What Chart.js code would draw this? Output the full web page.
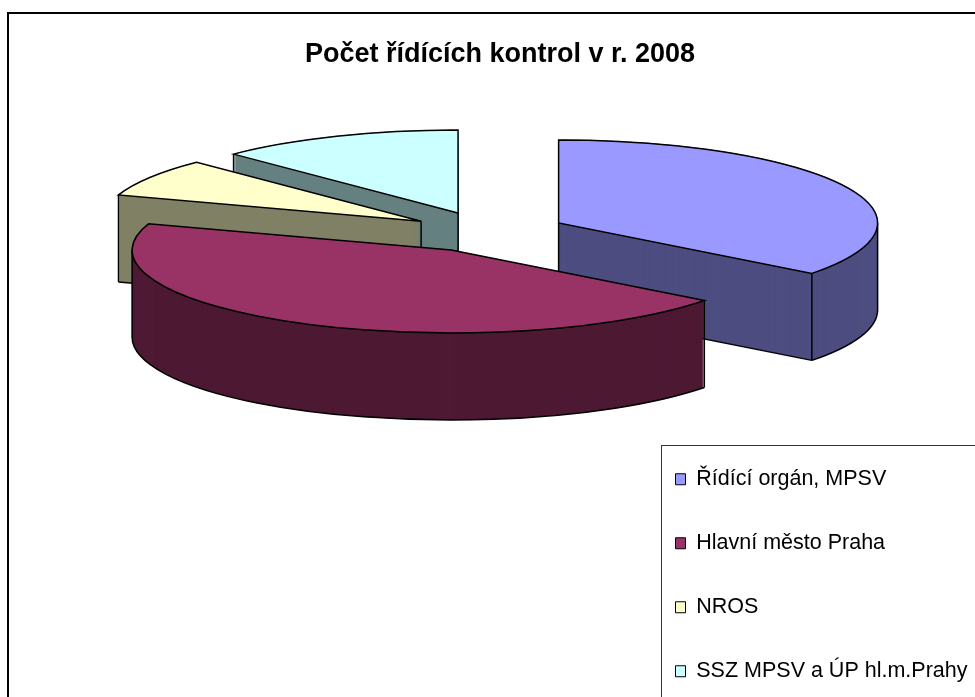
<!DOCTYPE html>
<html>
<head>
<meta charset="utf-8">
<style>
    html, body { margin: 0; padding: 0; background: #fff; overflow: hidden; }
</style>
<script src="https://cdn.jsdelivr.net/npm/chart.js@4"></script>
</head>
<body>
<canvas id="chart" width="975" height="697"></canvas>
<script>
'use strict';

const categories = ['Řídící orgán, MPSV', 'Hlavní město Praha', 'NROS', 'SSZ MPSV a ÚP hl.m.Prahy'];
const controlCounts = [57, 72, 12, 20];
const sliceColors = ['#9999ff', '#993366', '#ffffcc', '#ccffff'];
const wallColors = ['#4d4d80', '#4d1933', '#808066', '#668080'];
const chartTitle = 'Počet řídících kontrol v r. 2008';

// back slices first, the front one last
const paintOrder = [3, 2, 0, 1];

const pieCenter = { x: 488, y: 232 };
const tilt = 0.26;
const depth = 87;

// the arc element grows its radius by this much when it is offset
const radiusGrowth = (arc) => {
    const sweep = Math.min(Math.PI, arc.circumference || 0);
    return arc.options.offset / 4 * (1 - Math.sin(sweep));
};

const sectorPath = (ctx, arc, dy) => {
    const shift = arc.options.offset / 4;
    const mid = (arc.startAngle + arc.endAngle) / 2;
    const ox = Math.cos(mid) * shift;
    const oy = Math.sin(mid) * shift;
    const r = arc.outerRadius + radiusGrowth(arc);
    ctx.save();
    ctx.translate(pieCenter.x, pieCenter.y + dy);
    ctx.scale(1, tilt);
    ctx.beginPath();
    ctx.moveTo(ox, oy);
    ctx.arc(ox, oy, r, arc.startAngle, arc.endAngle);
    ctx.closePath();
    ctx.restore();
    return { ox, oy, r, start: arc.startAngle, end: arc.endAngle };
};

// outlines of a slice wall, only the ones facing the viewer
const wallEdges = (ctx, s) => {
    const eps = 1e-6;
    const apex = [pieCenter.x + s.ox, pieCenter.y + s.oy * tilt];
    const toScreen = a => [
        pieCenter.x + s.ox + Math.cos(a) * s.r,
        pieCenter.y + (s.oy + Math.sin(a) * s.r) * tilt
    ];
    const line = (a, b) => {
        ctx.beginPath();
        ctx.moveTo(a[0], a[1]);
        ctx.lineTo(b[0], b[1]);
        ctx.stroke();
    };
    const inside = a => a >= s.start && a <= s.end;
    const down = p => [p[0], p[1] + depth];

    const startFaces = Math.cos(s.start) < -eps;
    const endFaces = Math.cos(s.end) > eps;
    const verticals = [];
    if (startFaces || Math.sin(s.start) > eps) verticals.push(toScreen(s.start));
    if (endFaces || Math.sin(s.end) > eps) verticals.push(toScreen(s.end));
    if (inside(0)) verticals.push(toScreen(0));
    if (inside(Math.PI)) verticals.push(toScreen(Math.PI));
    if (!inside(Math.PI / 2)) verticals.push(apex);
    verticals.forEach(p => line(p, down(p)));

    if (startFaces) line(down(apex), down(toScreen(s.start)));
    if (endFaces) line(down(apex), down(toScreen(s.end)));

    // front part of the bottom rim
    const from = Math.max(s.start, 0);
    const to = Math.min(s.end, Math.PI);
    if (from < to) {
        ctx.save();
        ctx.translate(apex[0], apex[1] + depth);
        ctx.scale(1, tilt);
        ctx.beginPath();
        ctx.arc(0, 0, s.r, from, to);
        ctx.restore();
        ctx.stroke();
    }
};

const framePlugin = {
    id: 'frame',
    beforeDraw: (chart) => {
        const ctx = chart.ctx;
        ctx.save();
        ctx.fillStyle = '#fff';
        ctx.fillRect(0, 0, chart.width, chart.height);
        ctx.strokeStyle = '#000';
        ctx.lineWidth = 2;
        ctx.strokeRect(8, 13, 1200, 1200);
        ctx.strokeStyle = '#333';
        ctx.lineWidth = 1;
        ctx.strokeRect(661.5, 445.5, 600, 600);
        ctx.restore();
    }
};

// moves the legend to where the picture has it, the layout only fits its size
const legendPlugin = {
    id: 'legendPlace',
    afterLayout: (chart) => {
        const legend = chart.legend;
        legend.left = 633;
        legend.top = 426;
        legend.right = chart.width;
        legend.bottom = 900;
    }
};

const tiltedPiePlugin = {
    id: 'tiltedPie',
    afterDatasetsUpdate: (chart) => {
        // keep all slices on one radius
        chart.getDatasetMeta(0).data.forEach(arc => {
            arc.outerRadius -= radiusGrowth(arc);
        });
    },
    beforeDatasetsDraw: (chart) => {
        const ctx = chart.ctx;
        const arcs = chart.getDatasetMeta(0).data;
        ctx.save();
        ctx.strokeStyle = '#000';
        ctx.lineWidth = 1.5;
        paintOrder.forEach(i => {
            ctx.fillStyle = wallColors[i];
            let s;
            for (let d = depth; d >= 0; d--) {
                s = sectorPath(ctx, arcs[i], d);
                ctx.fill();
            }
            wallEdges(ctx, s);
        });
        ctx.restore();
        // the library draws the top faces inside this transform
        ctx.save();
        ctx.translate(pieCenter.x, pieCenter.y);
        ctx.scale(1, tilt);
        ctx.translate(-arcs[0].x, -arcs[0].y);
    },
    afterDatasetsDraw: (chart) => {
        const ctx = chart.ctx;
        ctx.restore();
        ctx.save();
        ctx.strokeStyle = '#000';
        ctx.lineWidth = 1.5;
        chart.getDatasetMeta(0).data.forEach((arc, i) => {
            sectorPath(ctx, arc, 0);
            ctx.fillStyle = sliceColors[i];
            ctx.fill();
            ctx.stroke();
        });
        ctx.restore();
    }
};

Chart.defaults.font.family = '"Liberation Sans", Arial, sans-serif';
Chart.defaults.color = '#000';

new Chart(document.getElementById('chart'), {
    type: 'pie',
    data: {
        labels: categories,
        datasets: [{
            data: controlCounts,
            backgroundColor: sliceColors,
            borderColor: '#000',
            borderWidth: 1,
            offset: 315,
            clip: false
        }]
    },
    options: {
        responsive: false,
        animation: false,
        radius: 319,
        layout: { padding: { left: 25 } },
        plugins: {
            title: {
                display: true,
                text: chartTitle,
                font: { size: 27, weight: 'bold' },
                padding: { top: 38, bottom: 0 }
            },
            legend: {
                position: 'chartArea',
                align: 'start',
                labels: {
                    font: { size: 21.5 },
                    boxWidth: 10,
                    boxHeight: 11,
                    padding: 42.5
                }
            },
            tooltip: { enabled: false }
        }
    },
    plugins: [framePlugin, legendPlugin, tiltedPiePlugin]
});
</script>
</body>
</html>
